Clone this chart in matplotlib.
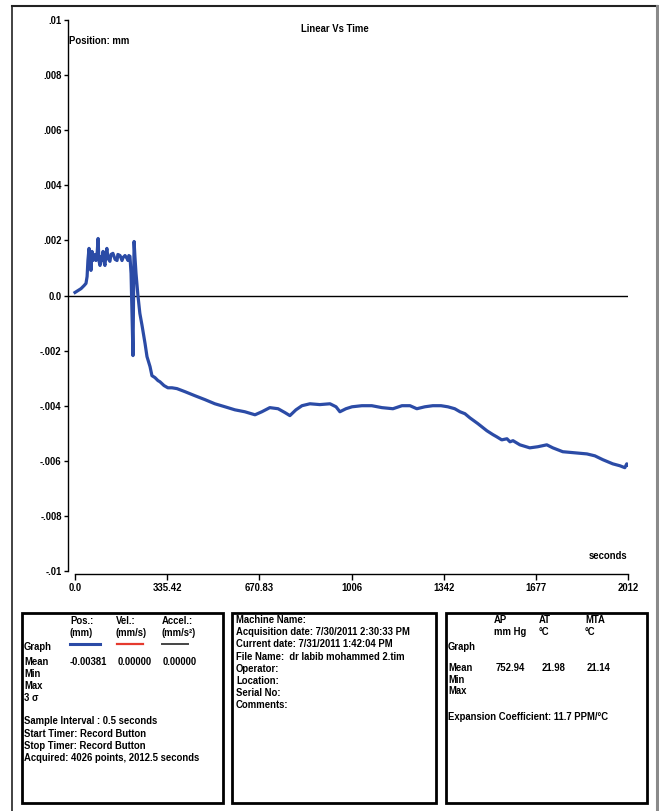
import matplotlib
matplotlib.use("Agg")
import matplotlib.pyplot as plt
from matplotlib.patches import Rectangle
from matplotlib.lines import Line2D

# ---- data: position (mm) against time (s) ----
time_s = [0, 11, 22, 33, 40, 44, 47, 51, 55, 58, 62, 65, 69, 73, 76, 80, 84, 87, 91, 95,
          98, 102, 106, 109, 113, 116, 120, 127, 131, 138, 146, 153, 156, 164, 171, 175,
          182, 189, 193, 196, 200, 204, 207, 211, 213, 215, 218, 222, 229, 236, 244, 255,
          262, 273, 280, 291, 302, 309, 324, 338, 353, 371, 400, 437, 473, 509, 546, 582,
          618, 655, 680, 709, 739, 764, 782, 804, 826, 855, 891, 928, 950, 964, 986, 1008,
          1044, 1080, 1117, 1157, 1190, 1219, 1244, 1273, 1302, 1332, 1357, 1382, 1401,
          1419, 1437, 1466, 1499, 1521, 1535, 1553, 1572, 1583, 1594, 1619, 1655, 1684,
          1717, 1739, 1775, 1819, 1863, 1892, 1921, 1957, 1983, 2001, 2008, 2012]
position_mm = [0.00011, 0.00018, 0.00025, 0.00036, 0.00044, 0.00069, 0.00127, 0.00171,
               0.00142, 0.00091, 0.00160, 0.00127, 0.00142, 0.00149, 0.00127, 0.00145,
               0.00207, 0.00127, 0.00109, 0.00142, 0.00127, 0.00160, 0.00120, 0.00109,
               0.00153, 0.00171, 0.00135, 0.00124, 0.00149, 0.00153, 0.00131, 0.00127,
               0.00149, 0.00145, 0.00127, 0.00138, 0.00145, 0.00135, 0.00127, 0.00145,
               0.00142, 0.00080, -0.00047, -0.00218, -0.00011, 0.00196, 0.00142, 0.00080,
               0.0, -0.00065, -0.00109, -0.00175, -0.00222, -0.00258, -0.00291, -0.00298,
               -0.00309, -0.00313, -0.00327, -0.00335, -0.00335, -0.00338, -0.00349,
               -0.00364, -0.00378, -0.00393, -0.00404, -0.00415, -0.00422, -0.00433,
               -0.00422, -0.00407, -0.00411, -0.00425, -0.00436, -0.00415, -0.00400,
               -0.00393, -0.00396, -0.00393, -0.00404, -0.00422, -0.00411, -0.00404,
               -0.00400, -0.00400, -0.00407, -0.00411, -0.00400, -0.00400, -0.00411,
               -0.00404, -0.00400, -0.00400, -0.00404, -0.00411, -0.00422, -0.00429,
               -0.00444, -0.00465, -0.00491, -0.00505, -0.00513, -0.00524, -0.00520,
               -0.00531, -0.00527, -0.00542, -0.00553, -0.00549, -0.00542, -0.00553,
               -0.00567, -0.00571, -0.00575, -0.00582, -0.00596, -0.00611, -0.00618,
               -0.00625, -0.00611, -0.00615]

x_ticks = [0, 335.42, 670.83, 1006.25, 1341.67, 1677.08, 2012.5]
x_tick_labels = ["0.0", "335.42", "670.83", "1006", "1342", "1677", "2012"]
y_ticks = [0.01, 0.008, 0.006, 0.004, 0.002, 0.0, -0.002, -0.004, -0.006, -0.008, -0.01]
y_tick_labels = [".01", ".008", ".006", ".004", ".002", "0.0", "-.002", "-.004",
                 "-.006", "-.008", "-.01"]

W, H = 659, 811
FONT = "Liberation Sans"
FS = 6.85

fig = plt.figure(figsize=(W / 100, H / 100), dpi=100)
fig.patch.set_facecolor("white")


def fx(x):
    return x / W


def fy(y):
    return 1 - y / H


def ftext(x, y, s, **kw):
    kw.setdefault("ha", "left")
    kw.setdefault("va", "center")
    fig.text(fx(x), fy(y), s, fontsize=kw.pop("fontsize", FS), family=FONT,
             weight="bold", **kw)


# ---- main plot ----
ax_left, ax_right, ax_top, ax_bot = 68, 628, 20, 571
ax = fig.add_axes([fx(ax_left), fy(ax_bot), (ax_right - ax_left) / W,
                   (ax_bot - ax_top) / H])
ax.set_xlim(-25.5, 2012.5)
ax.set_ylim(-0.01, 0.01)
ax.patch.set_alpha(0)
for s in ("top", "right"):
    ax.spines[s].set_visible(False)
ax.spines["left"].set_linewidth(1.0)
ax.spines["bottom"].set_linewidth(1.0)
ax.spines["bottom"].set_bounds(0, 2012.5)
ax.spines["bottom"].set_position(("outward", 2))

ax.set_xticks(x_ticks)
ax.set_xticklabels(x_tick_labels)
ax.set_yticks(y_ticks)
ax.set_yticklabels(y_tick_labels)
ax.tick_params(axis="both", direction="out", length=3, width=1, colors="black",
               labelsize=FS, pad=1.5)
ax.tick_params(axis="x", length=4, pad=2.5)
for lab in ax.get_xticklabels() + ax.get_yticklabels():
    lab.set_family(FONT)
    lab.set_weight("bold")

ax.axhline(0, color="black", lw=1.0)
ax.plot(time_s, position_mm, color="#2b4ba6", lw=2.3, solid_joinstyle="round")

ftext(335, 29, "Linear Vs Time", ha="center")
ftext(69, 41, "Position: mm")
ftext(627, 556, "seconds", ha="right")

# ---- outer frame ----
fig.add_artist(Line2D([fx(12), fx(657)], [fy(6), fy(6)], color="#222222", lw=1.5))
fig.add_artist(Line2D([fx(12), fx(12)], [fy(6), fy(811)], color="#222222", lw=1.2))
fig.add_artist(Line2D([fx(657), fx(657)], [fy(6), fy(811)], color="#8a8a8a", lw=2.2))

# ---- info panels ----
for (x0, x1) in [(22, 223), (232, 436), (446, 647)]:
    fig.add_artist(Rectangle((fx(x0), fy(803)), fx(x1) - fx(x0), fy(613) - fy(803),
                             fill=False, edgecolor="black", lw=2.0))

# panel 1
ftext(70, 621, "Pos.:")
ftext(70, 633, "(mm)")
ftext(116, 621, "Vel.:")
ftext(116, 633, "(mm/s)")
ftext(162, 621, "Accel.:")
ftext(162, 633, "(mm/s²)")
ftext(24, 647, "Graph")
fig.add_artist(Line2D([fx(70), fx(100)], [fy(644), fy(644)], color="#2b4ba6", lw=2.2))
fig.add_artist(Line2D([fx(117), fx(143)], [fy(644), fy(644)], color="#e53a2e", lw=1.6))
fig.add_artist(Line2D([fx(162), fx(188)], [fy(644), fy(644)], color="#444444", lw=1.4))
ftext(24, 662, "Mean")
ftext(70, 662, "-0.00381")
ftext(118, 662, "0.00000")
ftext(163, 662, "0.00000")
ftext(24, 674, "Min")
ftext(24, 686, "Max")
ftext(24, 698, "3 σ")
ftext(24, 721, "Sample Interval : 0.5 seconds")
ftext(24, 734, "Start Timer: Record Button")
ftext(24, 746, "Stop Timer: Record Button")
ftext(24, 758, "Acquired: 4026 points, 2012.5 seconds")

# panel 2
info_lines = ["Machine Name:",
              "Acquisition date: 7/30/2011 2:30:33 PM",
              "Current date: 7/31/2011 1:42:04 PM",
              "File Name:  dr labib mohammed 2.tim",
              "Operator:",
              "Location:",
              "Serial No:",
              "Comments:"]
for i, line in enumerate(info_lines):
    ftext(236, 620 + i * 12.2, line)

# panel 3
ftext(494, 620, "AP")
ftext(494, 632, "mm Hg")
ftext(539, 620, "AT")
ftext(539, 632, "°C")
ftext(585, 620, "MTA")
ftext(585, 632, "°C")
ftext(448, 647, "Graph")
ftext(448, 668, "Mean")
ftext(448, 680, "Min")
ftext(448, 691, "Max")
ftext(496, 668, "752.94")
ftext(542, 668, "21.98")
ftext(587, 668, "21.14")
ftext(448, 717, "Expansion Coefficient: 11.7 PPM/°C")

fig.savefig("out.png", dpi=100, facecolor="white")
